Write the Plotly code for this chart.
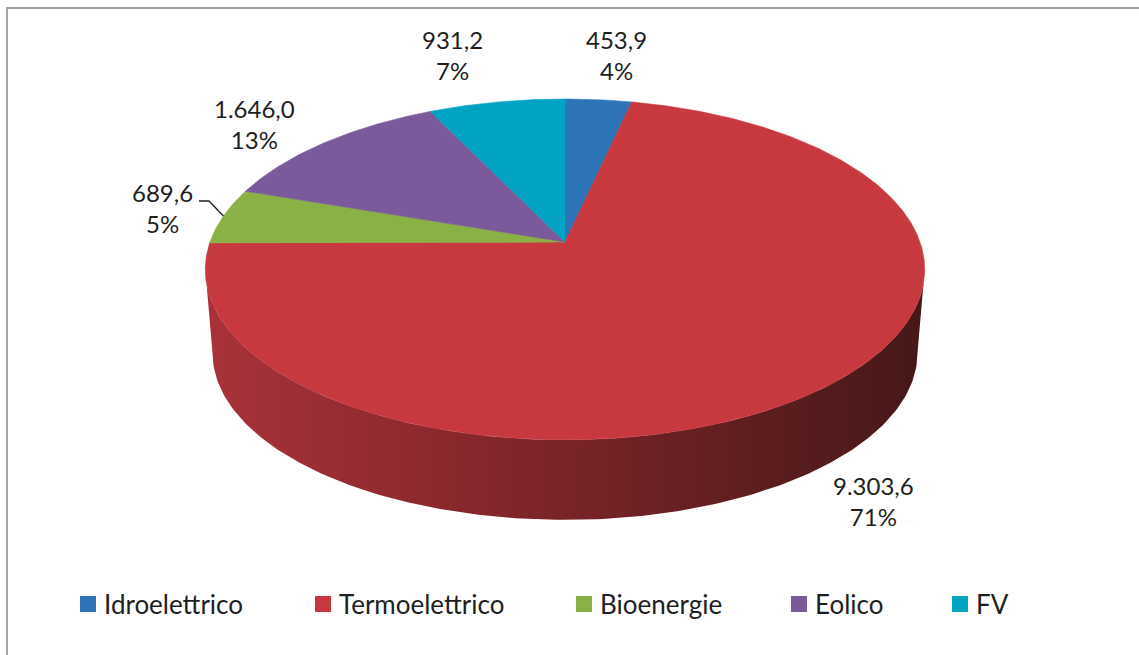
import numpy as np
import plotly.graph_objects as go

# ---------------- data ----------------
categories = ["Idroelettrico", "Termoelettrico", "Bioenergie", "Eolico", "FV"]
values = [453.9, 9303.6, 689.6, 1646.0, 931.2]
colors = ["#2C74B5", "#C8393F", "#8AB145", "#7A5A9B", "#00A3C2"]

# label anchors (pixel space: centre of two-line label)
label_pos = [(616, 55), (873, 501), (162, 208), (254, 124), (452, 55)]
legend_x = [88, 323, 584, 799, 960]
legend_y = 604

W, H = 1139, 655
FONT = "Lato"

# ---------------- geometry (perspective ellipse) ----------------
cx, cy = 565, 242
rx, ry, k = 355, 166, 0.161
Yv, s = 4440.0, 0.98  # vanishing point / shrink for bottom rim


def proj(phi_deg):
    phi = np.radians(np.asarray(phi_deg, dtype=float))
    u = np.sin(phi)
    v = -np.cos(phi)
    p = 1.0 / (1.0 - k * v)
    return cx + rx * u * p, cy + ry * v * p


def bottom(x, y):
    return cx + s * (x - cx), Yv + s * (y - Yv)


total = sum(values)
fracs = [v / total for v in values]
starts = np.concatenate([[0], np.cumsum(fracs)[:-1]]) * 360
ends = np.cumsum(fracs) * 360

# percentages (largest remainder so they add to 100)
raw = [f * 100 for f in fracs]
pcts = [int(np.floor(r)) for r in raw]
rem = sorted(range(len(raw)), key=lambda i: raw[i] - pcts[i], reverse=True)
for i in rem[: 100 - sum(pcts)]:
    pcts[i] += 1


def it_fmt(v):
    s_ = f"{v:,.1f}"
    return s_.replace(",", "X").replace(".", ",").replace("X", ".")


fig = go.Figure()

# ---------------- side wall (front, red) ----------------
phi_side = np.linspace(99.3, 260.7, 200)
tx, ty = proj(phi_side)
bx, by = bottom(tx, ty)
sx = np.concatenate([tx, bx[::-1], tx[:1]])
sy = np.concatenate([ty, by[::-1], ty[:1]])
fig.add_trace(go.Scatter(
    x=sx, y=sy, mode="lines", fill="toself",
    line=dict(width=0, color="#7A2327"),
    fillgradient=dict(type="horizontal",
                      colorscale=[[0, "#A9323A"], [0.45, "#7E2529"], [1, "#461818"]]),
    hoverinfo="skip", showlegend=False))

# ---------------- top slices ----------------
for cat, a0, a1, col in zip(categories, starts, ends, colors):
    n = max(int((a1 - a0) * 2), 8)
    ph = np.linspace(a0, a1, n)
    ax_, ay_ = proj(ph)
    px = np.concatenate([[cx], ax_, [cx]])
    py = np.concatenate([[cy], ay_, [cy]])
    fig.add_trace(go.Scatter(
        x=px, y=py, mode="lines", fill="toself", fillcolor=col,
        line=dict(width=0.6, color=col), hoverinfo="skip",
        name=cat, showlegend=False))

# ---------------- data labels ----------------
for v, pc, (lx, ly) in zip(values, pcts, label_pos):
    fig.add_annotation(x=lx, y=ly, text=f"{it_fmt(v)}<br>{pc}%",
                       showarrow=False, xanchor="center", yanchor="middle",
                       font=dict(family=FONT, size=24, color="#1E1E1E"),
                       align="center")

# leader line for Bioenergie
bio = categories.index("Bioenergie")
mid = (starts[bio] + ends[bio]) / 2
ex, ey = proj(mid)
lx, ly = label_pos[bio]
fig.add_trace(go.Scatter(
    x=[lx + 37, lx + 47, float(ex)], y=[ly - 7, ly - 7, float(ey)],
    mode="lines", line=dict(color="#1E1E1E", width=1.3),
    hoverinfo="skip", showlegend=False))

# ---------------- legend ----------------
fig.add_trace(go.Scatter(
    x=legend_x, y=[legend_y] * len(categories), mode="markers",
    marker=dict(symbol="square", size=16, color=colors, line=dict(width=0)),
    hoverinfo="skip", showlegend=False))
for cat, lx in zip(categories, legend_x):
    fig.add_annotation(x=lx + 14, y=legend_y, text=cat, showarrow=False,
                       xanchor="left", yanchor="middle",
                       font=dict(family=FONT, size=26, color="#1E1E1E"))

# frame
fig.add_shape(type="rect", x0=7, y0=8, x1=W + 20, y1=H + 20,
              line=dict(color="#A3A3A3", width=2), layer="above")

fig.update_layout(
    width=W, height=H, margin=dict(l=0, r=0, t=0, b=0),
    paper_bgcolor="white", plot_bgcolor="white",
    xaxis=dict(range=[0, W], visible=False, fixedrange=True),
    yaxis=dict(range=[H, 0], visible=False, fixedrange=True),
    showlegend=False,
)

fig.write_html("out.html")
